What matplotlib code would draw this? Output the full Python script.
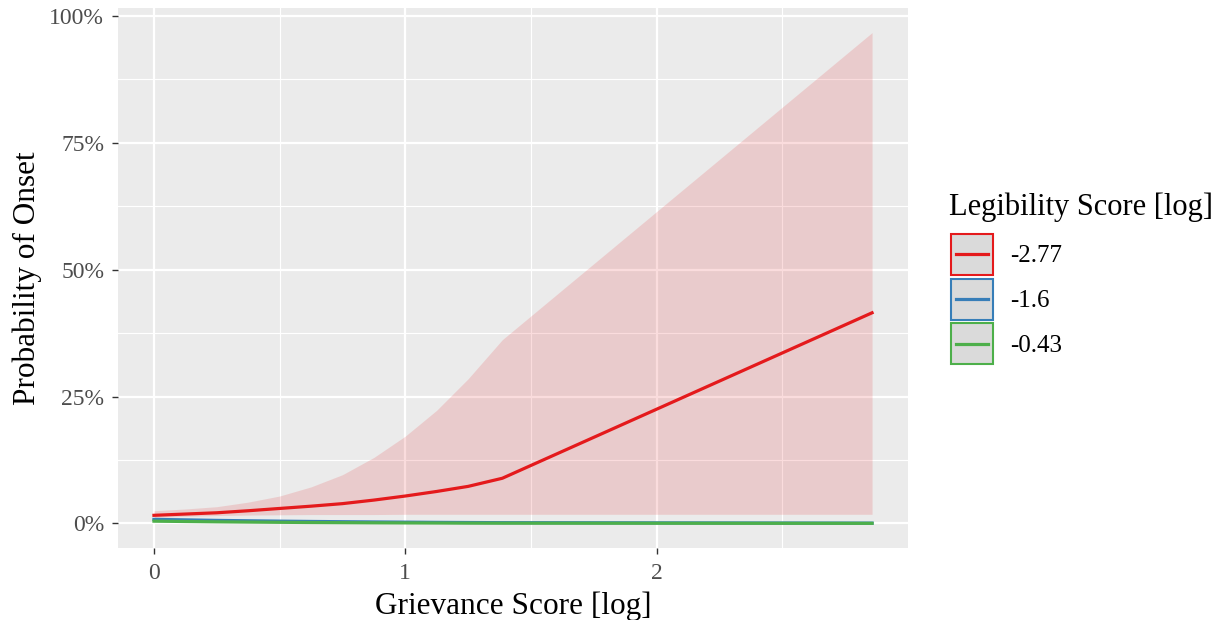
import matplotlib
matplotlib.use("Agg")
import matplotlib.pyplot as plt
from matplotlib.patches import Rectangle
from matplotlib.lines import Line2D
from matplotlib.ticker import FuncFormatter, FixedLocator

plt.rcParams['font.family'] = ['Liberation Serif', 'DejaVu Serif']

# grievance score (log) grid
grievance = [0, 0.125, 0.25, 0.375, 0.5, 0.625, 0.75, 0.875, 1.0, 1.125, 1.25, 1.386, 2.857]

# predicted probability of onset (%) per legibility level
levels = ['-2.77', '-1.6', '-0.43']
colors = ['#E41A1C', '#377EB8', '#4DAF4A']

fit = {
    '-2.77': [1.6, 1.85, 2.1, 2.5, 2.95, 3.4, 3.9, 4.6, 5.4, 6.3, 7.3, 8.9, 41.5],
    '-1.6': [0.8, 0.7, 0.6, 0.52, 0.45, 0.39, 0.34, 0.29, 0.25, 0.21, 0.18, 0.15, 0.05],
    '-0.43': [0.45, 0.38, 0.32, 0.27, 0.22, 0.18, 0.15, 0.12, 0.1, 0.08, 0.06, 0.05, 0.02],
}
upper = {
    '-2.77': [2.5, 2.85, 3.3, 4.2, 5.4, 7.2, 9.6, 13.0, 17.2, 22.3, 28.5, 36.2, 96.7],
    '-1.6': [1.2, 1.05, 0.95, 0.85, 0.78, 0.72, 0.67, 0.63, 0.6, 0.57, 0.55, 0.53, 0.5],
    '-0.43': [0.7, 0.6, 0.5, 0.42, 0.36, 0.3, 0.26, 0.22, 0.19, 0.16, 0.14, 0.12, 0.1],
}
lower = {
    '-2.77': [1.2, 1.4, 1.55, 1.65, 1.7, 1.75, 1.75, 1.75, 1.8, 1.8, 1.8, 1.8, 1.8],
    '-1.6': [0.45, 0.38, 0.3, 0.24, 0.18, 0.14, 0.1, 0.08, 0.06, 0.04, 0.03, 0.02, 0.0],
    '-0.43': [0.25, 0.2, 0.16, 0.12, 0.09, 0.07, 0.05, 0.04, 0.03, 0.02, 0.01, 0.01, 0.0],
}

x_ticks = [0, 1, 2]
y_ticks = [0, 25, 50, 75, 100]


class KeyHandler:
    # ggplot style key: grey box with coloured border and a line through the middle
    def legend_artist(self, legend, orig_handle, fontsize, handlebox):
        x0, y0 = -handlebox.xdescent, -handlebox.ydescent
        w, h = handlebox.width, handlebox.height
        c = orig_handle.get_color()
        rect = Rectangle((x0, y0), w, h, facecolor='#DADADA', edgecolor=c, lw=1.5,
                         transform=handlebox.get_transform())
        line = Line2D([x0 + 0.12 * w, x0 + 0.88 * w], [y0 + h / 2] * 2, color=c, lw=2.3,
                      transform=handlebox.get_transform())
        handlebox.add_artist(rect)
        handlebox.add_artist(line)
        return rect


fig = plt.figure(figsize=(12.25, 6.2), dpi=100)
ax = fig.add_axes([118 / 1225, 1 - 548 / 620, 790 / 1225, 540 / 620])
ax.set_facecolor('#EBEBEB')

for lev, col in zip(levels, colors):
    ax.fill_between(grievance, lower[lev], upper[lev], color=col, alpha=0.15, lw=0, zorder=2)
for lev, col in zip(levels, colors):
    ax.plot(grievance, fit[lev], color=col, lw=2.3, zorder=3)

ax.set_xlim(-0.143, 3.0)
ax.set_ylim(-4.84, 101.55)
ax.xaxis.set_major_locator(FixedLocator(x_ticks))
ax.xaxis.set_minor_locator(FixedLocator([0.5, 1.5, 2.5]))
ax.yaxis.set_major_locator(FixedLocator(y_ticks))
ax.yaxis.set_minor_locator(FixedLocator([12.5, 37.5, 62.5, 87.5]))
ax.yaxis.set_major_formatter(FuncFormatter(lambda v, p: f'{v:.0f}%'))
ax.grid(which='major', color='white', lw=1.6, zorder=1)
ax.grid(which='minor', color='white', lw=0.8, zorder=1)
ax.set_axisbelow(True)
for s in ax.spines.values():
    s.set_visible(False)
ax.tick_params(which='major', length=4, width=1, color='#333333', labelsize=17,
               labelcolor='#4D4D4D')
ax.tick_params(axis='x', which='major', pad=7)
ax.tick_params(axis='y', which='major', pad=6)
ax.tick_params(which='minor', length=0)

ax.set_xlabel('Grievance Score [log]', fontsize=22.5, labelpad=5)
ax.set_ylabel('Probability of Onset', fontsize=22.5, labelpad=5)

handles = [Line2D([], [], color=c) for c in colors]
leg = fig.legend(handles, levels, handler_map={Line2D: KeyHandler()},
                 loc='upper left', bbox_to_anchor=(951 / 1225, 1 - 234 / 620),
                 frameon=False, fontsize=18,
                 handlelength=1.68, handleheight=2.14, labelspacing=0.15,
                 handletextpad=0.68, borderpad=0, borderaxespad=0)
fig.text(949 / 1225, 1 - 207 / 620, 'Legibility Score [log]', fontsize=22,
         ha='left', va='center')

fig.savefig('out.png', dpi=100)
